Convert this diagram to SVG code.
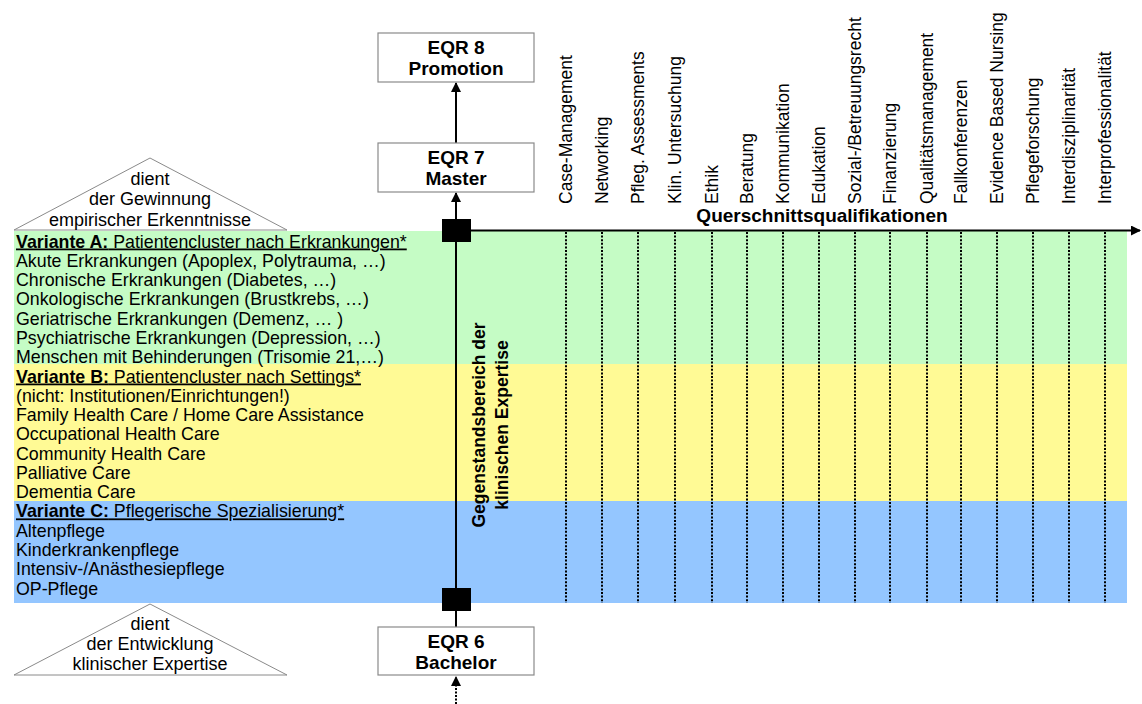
<svg xmlns="http://www.w3.org/2000/svg" width="1142" height="704" viewBox="0 0 1142 704">
<style>
text{font-family:"Liberation Sans",Arial,sans-serif;fill:#000}
.r{font-size:17.8px}
.t{font-size:18px}
.c{font-size:17.5px}
.b{font-size:19px;font-weight:bold}
.vb{font-size:17.5px;font-weight:bold}
.box{fill:#fff;stroke:#8a8a8a;stroke-width:1.2}
.tri{fill:#fff;stroke:#8a8a8a;stroke-width:1}
.dot{stroke:#000;stroke-width:2;stroke-dasharray:2 1.6}
.ln{stroke:#000;stroke-width:2;fill:none}
.u{text-decoration:underline}
</style>
<defs>
<marker id="ah" viewBox="0 0 10 10" refX="9" refY="5" markerWidth="5" markerHeight="5" orient="auto" markerUnits="strokeWidth">
<path d="M0,0 L10,5 L0,10 Z" fill="#000"/>
</marker>
</defs>
<g id="bands">
<rect x="14" y="231" width="1113" height="133" fill="#c5fcc5"/>
<rect x="14" y="364" width="1113" height="137" fill="#fffa95"/>
<rect x="14" y="501" width="1113" height="102" fill="#94c6ff"/>
</g>
<g id="list" class="r">
<text x="16" y="247.5" class="u"><tspan font-weight="bold">Variante A:</tspan> Patientencluster nach Erkrankungen*</text>
<text x="16" y="266.8">Akute Erkrankungen (Apoplex, Polytrauma, …)</text>
<text x="16" y="286.1">Chronische Erkrankungen (Diabetes, …)</text>
<text x="16" y="305.3">Onkologische Erkrankungen (Brustkrebs, …)</text>
<text x="16" y="324.6">Geriatrische Erkrankungen (Demenz, … )</text>
<text x="16" y="343.9">Psychiatrische Erkrankungen (Depression, …)</text>
<text x="16" y="363.2">Menschen mit Behinderungen (Trisomie 21,…)</text>
<text x="16" y="382.5" class="u"><tspan font-weight="bold">Variante B:</tspan> Patientencluster nach Settings*</text>
<text x="16" y="401.7">(nicht: Institutionen/Einrichtungen!)</text>
<text x="16" y="421">Family Health Care / Home Care Assistance</text>
<text x="16" y="440.3">Occupational Health Care</text>
<text x="16" y="459.6">Community Health Care</text>
<text x="16" y="478.9">Palliative Care</text>
<text x="16" y="498.1">Dementia Care</text>
<text x="16" y="517.4" class="u"><tspan font-weight="bold">Variante C:</tspan> Pflegerische Spezialisierung*</text>
<text x="16" y="536.7">Altenpflege</text>
<text x="16" y="556">Kinderkrankenpflege</text>
<text x="16" y="575.3">Intensiv-/Anästhesiepflege</text>
<text x="16" y="594.5">OP-Pflege</text>
</g>
<g id="triangle-top">
<polygon class="tri" points="150,158 14,230 287,230"/>
<text class="t" x="150" y="185" text-anchor="middle">dient</text>
<text class="t" x="150" y="205" text-anchor="middle">der Gewinnung</text>
<text class="t" x="150" y="225.5" text-anchor="middle">empirischer Erkenntnisse</text>
</g>
<g id="triangle-bottom">
<polygon class="tri" points="150,604 14,675 287,675"/>
<text class="t" x="150" y="630" text-anchor="middle">dient</text>
<text class="t" x="150" y="650" text-anchor="middle">der Entwicklung</text>
<text class="t" x="150" y="670" text-anchor="middle">klinischer Expertise</text>
</g>
<g id="columns">
<line class="dot" x1="566" y1="232" x2="566" y2="603"/>
<line class="dot" x1="602" y1="232" x2="602" y2="603"/>
<line class="dot" x1="638" y1="232" x2="638" y2="603"/>
<line class="dot" x1="675" y1="232" x2="675" y2="603"/>
<line class="dot" x1="712" y1="232" x2="712" y2="603"/>
<line class="dot" x1="747" y1="232" x2="747" y2="603"/>
<line class="dot" x1="783" y1="232" x2="783" y2="603"/>
<line class="dot" x1="819" y1="232" x2="819" y2="603"/>
<line class="dot" x1="855" y1="232" x2="855" y2="603"/>
<line class="dot" x1="890" y1="232" x2="890" y2="603"/>
<line class="dot" x1="927" y1="232" x2="927" y2="603"/>
<line class="dot" x1="961" y1="232" x2="961" y2="603"/>
<line class="dot" x1="997" y1="232" x2="997" y2="603"/>
<line class="dot" x1="1033" y1="232" x2="1033" y2="603"/>
<line class="dot" x1="1069" y1="232" x2="1069" y2="603"/>
<line class="dot" x1="1105" y1="232" x2="1105" y2="603"/>
</g>
<g id="column-labels" class="c">
<text transform="translate(572,204) rotate(-90)">Case-Management</text>
<text transform="translate(608,204) rotate(-90)">Networking</text>
<text transform="translate(644,204) rotate(-90)">Pfleg. Assessments</text>
<text transform="translate(681,204) rotate(-90)">Klin. Untersuchung</text>
<text transform="translate(718,204) rotate(-90)">Ethik</text>
<text transform="translate(753,204) rotate(-90)">Beratung</text>
<text transform="translate(789,204) rotate(-90)">Kommunikation</text>
<text transform="translate(825,204) rotate(-90)">Edukation</text>
<text transform="translate(861,204) rotate(-90)">Sozial-/Betreuungsrecht</text>
<text transform="translate(896,204) rotate(-90)">Finanzierung</text>
<text transform="translate(933,204) rotate(-90)">Qualitätsmanagement</text>
<text transform="translate(967,204) rotate(-90)">Fallkonferenzen</text>
<text transform="translate(1003,204) rotate(-90)">Evidence Based Nursing</text>
<text transform="translate(1039,204) rotate(-90)">Pflegeforschung</text>
<text transform="translate(1075,204) rotate(-90)">Interdisziplinarität</text>
<text transform="translate(1111,204) rotate(-90)">Interprofessionalität</text>
</g>
<g id="connectors">
<line class="ln" x1="456" y1="143" x2="456" y2="83" marker-end="url(#ah)"/>
<line class="ln" x1="456" y1="219" x2="456" y2="193" marker-end="url(#ah)"/>
<line class="ln" x1="456" y1="242" x2="456" y2="627"/>
<line class="ln" x1="471" y1="230.5" x2="1140" y2="230.5" marker-end="url(#ah)"/>
<line class="ln" x1="456" y1="704" x2="456" y2="677" stroke-dasharray="2 1.5" marker-end="url(#ah)"/>
</g>
<g id="axis-label">
<text class="b" x="822" y="222" text-anchor="middle">Querschnittsqualifikationen</text>
</g>
<g id="expertise-label" class="vb">
<text transform="translate(485,425) rotate(-90)" text-anchor="middle">Gegenstandsbereich der</text>
<text transform="translate(508,425) rotate(-90)" text-anchor="middle">klinischen Expertise</text>
</g>
<g id="square-top"><rect x="442" y="219" width="29" height="23" fill="#000"/></g>
<g id="square-bottom"><rect x="442" y="588" width="29" height="23" fill="#000"/></g>
<g id="eqr8">
<rect class="box" x="378" y="33" width="156" height="49"/>
<text class="b" x="456" y="54" text-anchor="middle">EQR 8</text>
<text class="b" x="456" y="75" text-anchor="middle">Promotion</text>
</g>
<g id="eqr7">
<rect class="box" x="378" y="143" width="156" height="49"/>
<text class="b" x="456" y="164" text-anchor="middle">EQR 7</text>
<text class="b" x="456" y="185" text-anchor="middle">Master</text>
</g>
<g id="eqr6">
<rect class="box" x="378" y="627" width="156" height="48"/>
<text class="b" x="456" y="648" text-anchor="middle">EQR 6</text>
<text class="b" x="456" y="669" text-anchor="middle">Bachelor</text>
</g>
</svg>
